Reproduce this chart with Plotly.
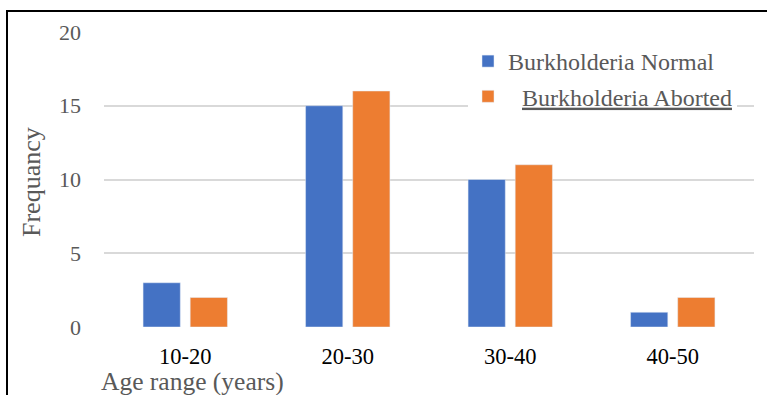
import plotly.graph_objects as go

categories = ["10-20", "20-30", "30-40", "40-50"]
normal_values = [3, 15, 10, 1]
aborted_values = [2, 16, 11, 2]
y_ticks = [0, 5, 10, 15, 20]
series_names = ["Burkholderia Normal", "\u00a0\u00a0\u200a<u>Burkholderia Aborted</u>"]
y_title = "Frequancy"
x_title = "Age range (years)"

W, H = 767, 395
L, R, T, B = 104, 13, 32, 68
pw, ph = W - L - R, H - T - B

def px_x(px):
    return (px - L) / pw

def px_y(py):
    return (H - B - py) / ph

FONT = "Liberation Serif, Times New Roman, serif"
GRAY = "#595959"

fig = go.Figure()
fig.add_trace(go.Bar(x=categories, y=normal_values, name=series_names[0],
                     marker_color="#4472C4", legendgroup="a"))
fig.add_trace(go.Bar(x=categories, y=aborted_values, name=series_names[1],
                     marker_color="#ED7D31", legendgroup="b"))

fig.update_layout(
    width=W, height=H,
    margin=dict(l=L, r=R, t=T, b=B, pad=0),
    paper_bgcolor="white", plot_bgcolor="white",
    barmode="group", bargap=0.42, bargroupgap=0.21,
    font=dict(family=FONT, color=GRAY),
    showlegend=True,
    legend=dict(x=px_x(468), xanchor="left", y=px_y(39), yanchor="top",
                bgcolor="white", font=dict(size=24, color=GRAY, family=FONT),
                traceorder="grouped", tracegroupgap=1),
    xaxis=dict(showgrid=False, showline=False, zeroline=False,
               tickfont=dict(size=22.5, color="black", family=FONT),
               ticks="", ticklabelstandoff=13),
    yaxis=dict(range=[0, 20], tickvals=y_ticks, showgrid=True,
               gridcolor="#D9D9D9", gridwidth=1.5, zeroline=False, showline=False,
               tickfont=dict(size=22, color=GRAY, family=FONT),
               ticks="", ticklabelstandoff=22),
    annotations=[
        dict(text=y_title, xref="paper", yref="paper", x=px_x(31), y=px_y(182),
             xanchor="center", yanchor="middle", textangle=-90, showarrow=False,
             font=dict(size=26, color=GRAY, family=FONT)),
        dict(text=x_title, xref="paper", yref="paper", x=px_x(99), y=px_y(381),
             xanchor="left", yanchor="middle", showarrow=False,
             font=dict(size=25.5, color=GRAY, family=FONT)),
    ],
    shapes=[
        dict(type="line", xref="paper", yref="paper", x0=px_x(7), x1=px_x(7),
             y0=px_y(11), y1=px_y(400), line=dict(color="black", width=2)),
        dict(type="line", xref="paper", yref="paper", x0=px_x(6), x1=px_x(770),
             y0=px_y(11), y1=px_y(11), line=dict(color="black", width=2)),
    ],
)

fig.write_html("out.html", config={"displayModeBar": False},
               post_script="document.body.style.margin='0';")
